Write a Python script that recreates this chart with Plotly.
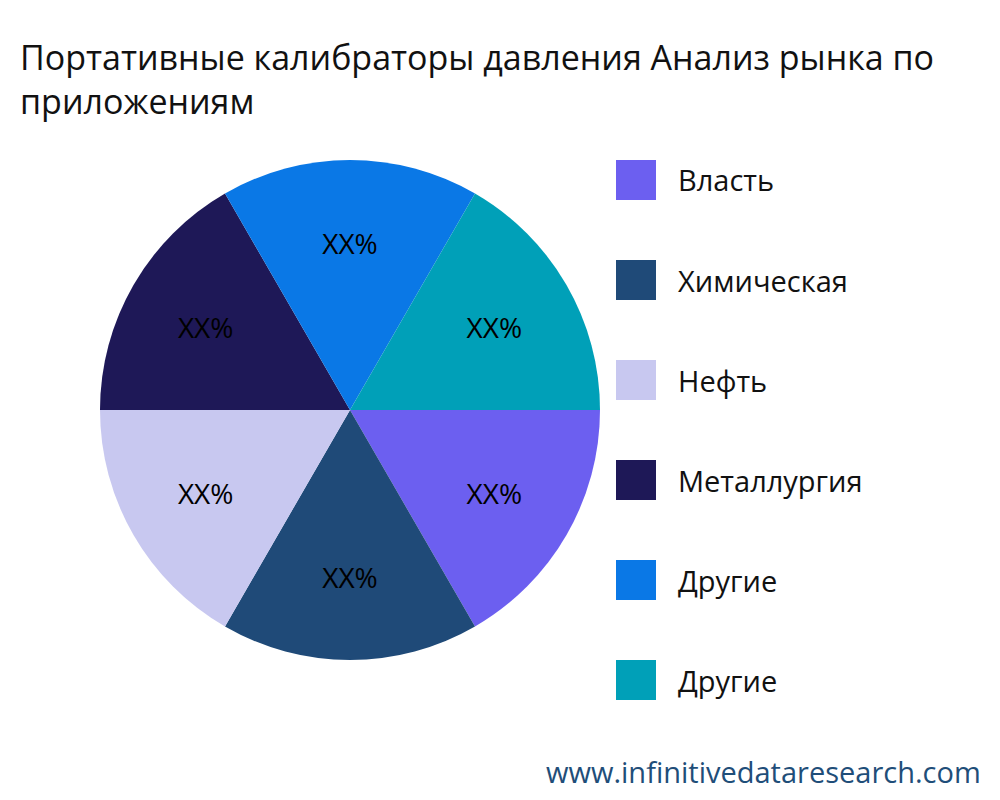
import plotly.graph_objects as go

labels = ["Власть", "Химическая", "Нефть", "Металлургия", "Другие", "Другие "]
legend_names = ["Власть", "Химическая", "Нефть", "Металлургия", "Другие", "Другие"]
values = [1, 1, 1, 1, 1, 1]
texts = ["XX%"] * 6
colors = ["#6c5ff0", "#1f4a78", "#c8c8f0", "#1e1857", "#0a78e6", "#00a0b8"]

fig = go.Figure(go.Pie(
    labels=labels, values=values, text=texts, textinfo="text",
    textposition="inside", insidetextorientation="horizontal",
    textfont=dict(size=28, color="black", family="Open Sans"),
    marker=dict(colors=colors), sort=False, direction="clockwise", rotation=90,
    domain=dict(x=[0.092, 0.592], y=[0.185, 0.81]), showlegend=False, hoverinfo="label",
))

shapes, annots = [], []
for i, (n, c) in enumerate(zip(legend_names, colors)):
    y0 = 152 + i * 100
    shapes.append(dict(type="rect", xref="paper", yref="paper", x0=0.608, x1=0.648,
                       y0=1 - (y0 + 40) / 800, y1=1 - y0 / 800, fillcolor=c, line=dict(width=0)))
    annots.append(dict(xref="paper", yref="paper", x=0.668, y=1 - (y0 + 20) / 800,
                       xanchor="left", yanchor="middle", text=n, showarrow=False,
                       font=dict(size=29, color="#111", family="Open Sans")))
annots.append(dict(xref="paper", yref="paper", x=0.975, y=1 - 763 / 800, xanchor="right",
                   yanchor="middle", text="www.infinitivedataresearch.com", showarrow=False,
                   font=dict(size=29, color="#1f4e79", family="Open Sans")))

fig.update_layout(
    width=1000, height=800, margin=dict(l=0, r=0, t=0, b=0),
    paper_bgcolor="white", plot_bgcolor="white",
    title=dict(text="Портативные калибраторы давления Анализ рынка по<br>приложениям",
               x=0.012, xanchor="left", y=1 - 62 / 800, yanchor="middle",
               font=dict(size=34, color="#111", family="Open Sans")),
    shapes=shapes, annotations=annots,
)
fig.write_html("out.html")
